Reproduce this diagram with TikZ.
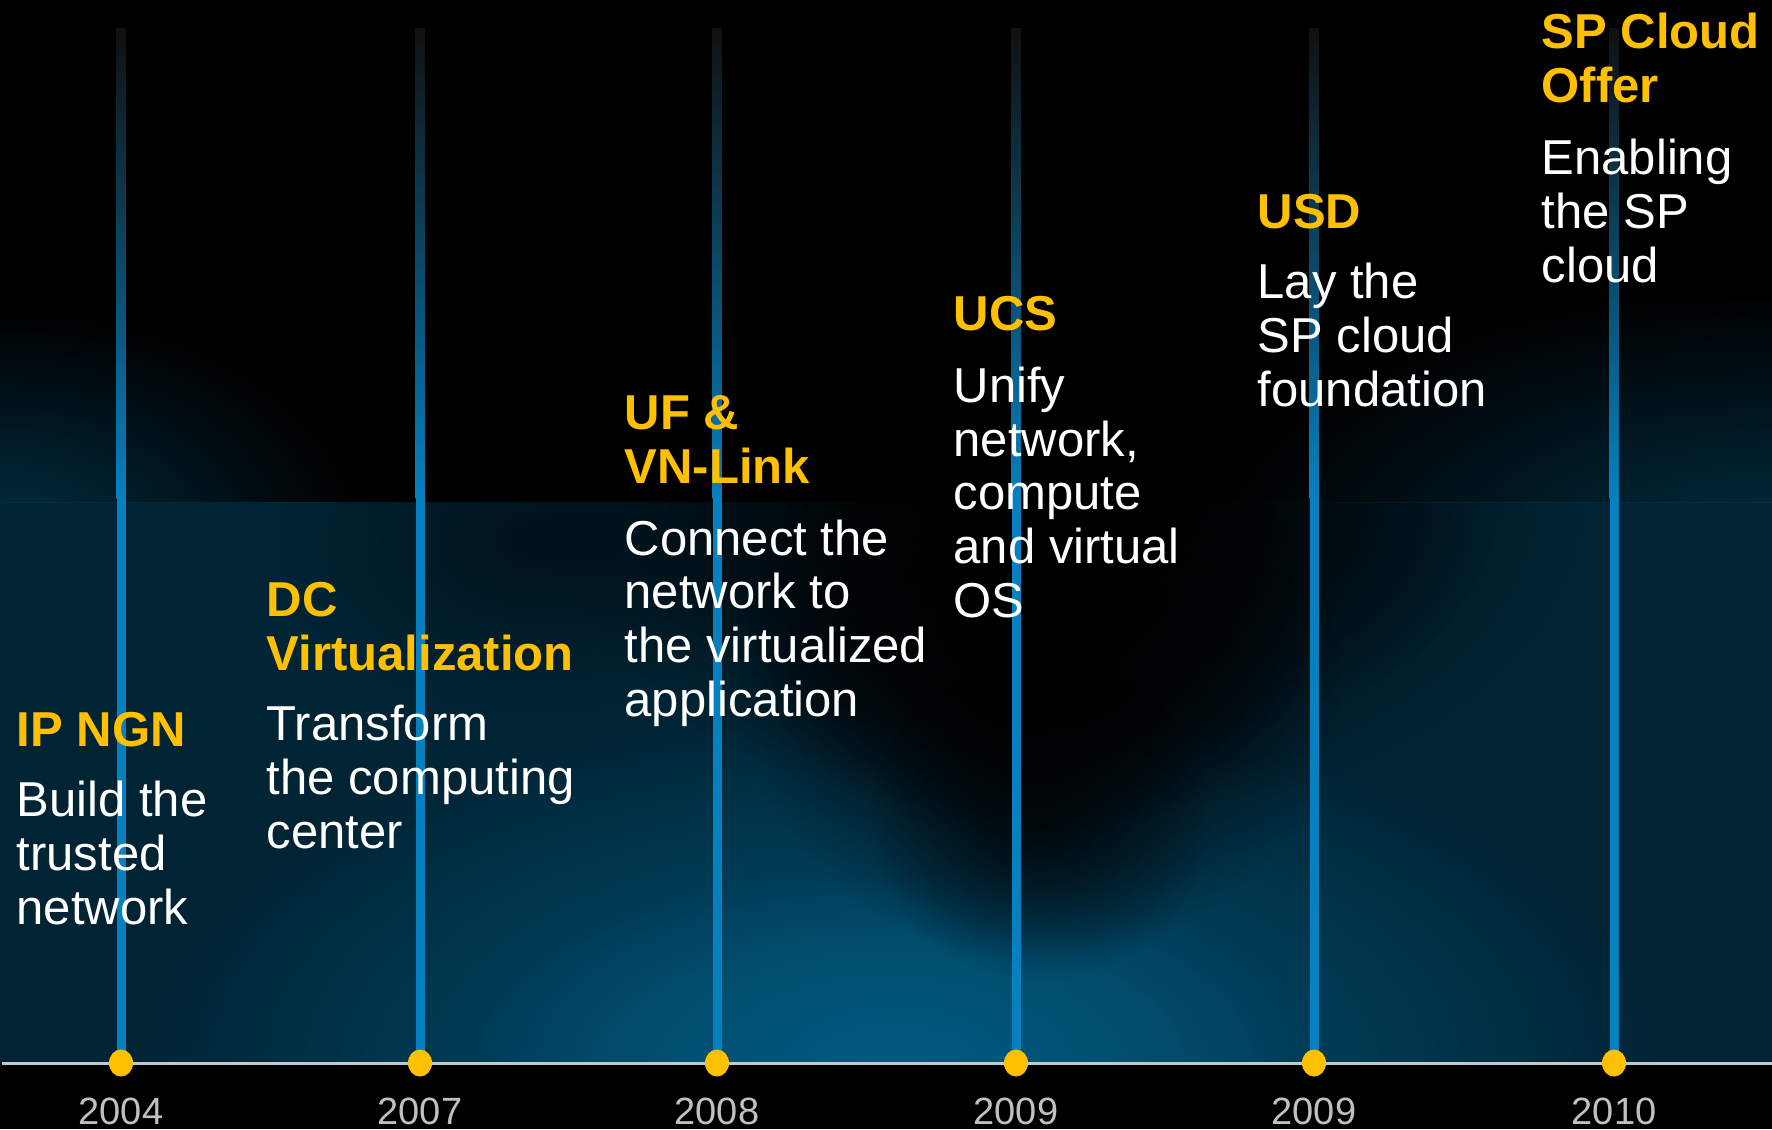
\documentclass[tikz,border=0pt]{standalone}
\usepackage{fontspec}
\setmainfont{Liberation Sans}
\usetikzlibrary{fadings,calc,shapes.geometric}
\definecolor{cgold}{RGB}{255,192,0}
\definecolor{cline}{RGB}{6,128,190}
\definecolor{clinetop}{RGB}{16,16,16}
\definecolor{cteal}{RGB}{0,36,52}
\definecolor{ctealhi}{RGB}{0,48,68}
\definecolor{cglow}{RGB}{2,90,128}
\definecolor{cyear}{RGB}{192,192,192}
\definecolor{caxis}{RGB}{195,200,204}
\tikzfading[name=softfade, inner color=transparent!0, outer color=transparent!100]
\tikzset{
  titletxt/.style={anchor=base west, inner sep=0pt, align=left, text=cgold,
    font=\fontsize{13.94pt}{15.22pt}\selectfont\bfseries},
  bodytxt/.style={anchor=base west, inner sep=0pt, align=left, text=white,
    font=\fontsize{13.94pt}{15.22pt}\selectfont},
  yeartxt/.style={anchor=base, inner sep=0pt, text=cyear,
    font=\fontsize{10.8pt}{12pt}\selectfont},
  golddot/.style={ellipse, fill=cgold, inner sep=0pt, minimum width=0.24cm, minimum height=0.27cm},
  axisline/.style={draw=caxis, line width=0.85pt},
  blob/.style={fill=black, path fading=softfade},
}
\begin{document}
\begin{tikzpicture}[x=0.01cm,y=-0.01cm]
\useasboundingbox (0,0) rectangle (1772,1129);
\fill[black] (0,0) rectangle (1772,1129);
% lower background glow
\begin{scope}
  \clip (0,502) rectangle (1772,1063);
  \fill[cteal] (0,502) rectangle (1772,1063);
  \fill[cglow, path fading=softfade] (900,1063) ellipse [x radius=760, y radius=360];
  \fill[cglow, path fading=softfade, opacity=0.7] (880,1063) ellipse [x radius=420, y radius=190];
  \path[blob] (1060,500) ellipse [x radius=520, y radius=320];
  \path[blob] (1060,500) ellipse [x radius=440, y radius=260];
  \path[blob] (1040,680) ellipse [x radius=300, y radius=280];
  \path[blob] (1030,620) ellipse [x radius=280, y radius=220];
  \path[blob, opacity=0.7] (1040,820) ellipse [x radius=170, y radius=160];
  \path[blob, opacity=0.5] (540,540) ellipse [x radius=260, y radius=170];
\end{scope}
% upper background glow
\begin{scope}
  \clip (0,300) rectangle (1772,502);
  \fill[ctealhi, path fading=softfade] (0,540) ellipse [x radius=360, y radius=230];
  \fill[ctealhi, path fading=softfade] (1772,560) ellipse [x radius=560, y radius=270];
\end{scope}
% axis
\coordinate (axL) at (2,1063);
\coordinate (axR) at (1772,1063);
\draw[axisline] (axL) -- (axR);
% vertical lines, dots, years
\foreach \xx/\nm/\yr in {121/a/2004, 420/b/2007, 717/c/2008, 1016/d/2009, 1314/e/2009, 1614/f/2010}{
  \coordinate (t\nm) at (\xx,28);
  \shade[top color=clinetop, bottom color=cline] ($(t\nm)+(-4.5,0)$) rectangle ($(t\nm)+(4.5,470)$);
  \fill[cline] ($(t\nm)+(-4.5,470)$) rectangle ($(\xx,1063)+(4.5,0)$);
  \node[golddot] (d\nm) at (\xx,1063) {};
  \node[yeartxt] (y\nm) at (\xx,1124) {\yr};
}
% texts (base anchor = baseline of last line)
\node[titletxt] (h1) at (16,746) {IP NGN};
\node[bodytxt] (b1) at (16,924) {Build the\\trusted\\network};
\node[titletxt] (h2) at (266,670) {DC\\Virtualization};
\node[bodytxt] (b2) at (266,848) {Transform\\the computing\\center};
\node[titletxt] (h3) at (624,483) {UF \&\\VN-Link};
\node[bodytxt] (b3) at (624,716) {Connect the\\network to\\the virtualized\\application};
\node[titletxt] (h4) at (953,330) {UCS};
\node[bodytxt] (b4) at (953,617) {Unify\\network,\\compute\\and virtual\\OS};
\node[titletxt] (h5) at (1257,228) {USD};
\node[bodytxt] (b5) at (1257,406) {Lay the\\SP cloud\\foundation};
\node[titletxt] (h6) at (1541,102) {SP Cloud\\Offer};
\node[bodytxt] (b6) at (1541,282) {Enabling\\the SP\\cloud};
\end{tikzpicture}
\end{document}
